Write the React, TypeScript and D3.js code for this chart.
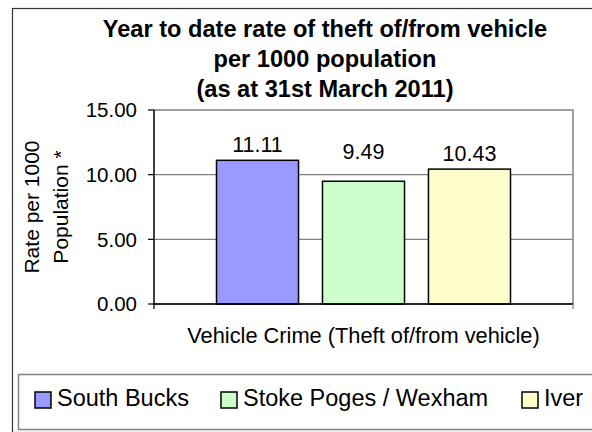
import * as d3 from "d3";

const CATEGORY = "Vehicle Crime (Theft of/from vehicle)";
const SERIES = ["South Bucks", "Stoke Poges / Wexham", "Iver"];
const VALUES = [11.11, 9.49, 10.43];
const COLORS = ["#9999ff", "#ccffcc", "#ffffcc"];
const Y_TICKS = [0, 5, 10, 15];
const TITLE_LINES = [
  "Year to date rate of theft of/from vehicle",
  "per 1000 population",
  "(as at 31st March 2011)",
];
const Y_TITLE_LINES = ["Rate per 1000", "Population *"];

// label lift above bar top (the middle label sits higher in the original)
const LABEL_LIFT = [8, 22, 8];
// legend swatch x positions
const LEGEND_X = [35, 221, 522];

const FONT = "'Liberation Sans', Arial, sans-serif";

export default function App() {
  const W = 592, H = 432;
  const plot = { left: 154, right: 573, top: 110, bottom: 304 };

  const y = d3.scaleLinear().domain([0, 15]).range([plot.bottom, plot.top]);
  const xOuter = d3.scaleBand<string>()
    .domain([CATEGORY])
    .range([plot.left, plot.right])
    .paddingOuter(0.2126);
  const xInner = d3.scaleBand<string>()
    .domain(SERIES)
    .range([xOuter(CATEGORY) ?? 0, (xOuter(CATEGORY) ?? 0) + xOuter.bandwidth()])
    .paddingInner(0.226);

  return (
    <svg width={W} height={H} style={{ position: "absolute", left: 0, top: 0, background: "#fff" }} fontFamily={FONT}>
      <rect x={0} y={0} width={W} height={H} fill="#fff" />
      {/* chart border */}
      <rect x={12.5} y={8.5} width={700} height={424} fill="none" stroke="#333" strokeWidth={1.2} />

      {/* title */}
      {TITLE_LINES.map((t, i) => (
        <text key={t} x={325} y={37 + i * 30} textAnchor="middle" fontSize={23.6} fontWeight="bold" fill="#000">
          {t}
        </text>
      ))}

      {/* plot border */}
      <rect x={plot.left} y={plot.top} width={plot.right - plot.left} height={plot.bottom - plot.top}
        fill="#fff" stroke="#808080" strokeWidth={1.5} />

      {/* gridlines */}
      {Y_TICKS.filter((t) => t > 0 && t < 15).map((t) => (
        <line key={t} x1={plot.left} x2={plot.right} y1={y(t)} y2={y(t)} stroke="#808080" strokeWidth={1.2} />
      ))}

      {/* bars */}
      {SERIES.map((s, i) => (
        <rect key={s} x={xInner(s)} y={y(VALUES[i])} width={xInner.bandwidth()} height={plot.bottom - y(VALUES[i])}
          fill={COLORS[i]} stroke="#000" strokeWidth={1.5} />
      ))}

      {/* data labels */}
      {SERIES.map((s, i) => (
        <text key={s} x={(xInner(s) ?? 0) + xInner.bandwidth() / 2} y={y(VALUES[i]) - LABEL_LIFT[i]}
          textAnchor="middle" fontSize={21.5} fill="#000">
          {VALUES[i].toFixed(2)}
        </text>
      ))}

      {/* y axis */}
      <line x1={plot.left} x2={plot.left} y1={plot.top} y2={plot.bottom + 5} stroke="#000" strokeWidth={1.2} />
      {Y_TICKS.map((t) => (
        <g key={t}>
          <line x1={plot.left - 6} x2={plot.left} y1={y(t)} y2={y(t)} stroke="#000" strokeWidth={1.2} />
          <text x={137} y={y(t)} dy="0.36em" textAnchor="end" fontSize={20.5} fill="#000">
            {t.toFixed(2)}
          </text>
        </g>
      ))}

      {/* x axis */}
      <line x1={plot.left} x2={plot.right} y1={plot.bottom} y2={plot.bottom} stroke="#000" strokeWidth={1.5} />
      <line x1={plot.right} x2={plot.right} y1={plot.bottom} y2={plot.bottom + 5} stroke="#808080" strokeWidth={1.2} />
      <text x={(xOuter(CATEGORY) ?? 0) + xOuter.bandwidth() / 2} y={343} textAnchor="middle" fontSize={21.8} fill="#000">
        {CATEGORY}
      </text>

      {/* y axis title */}
      {Y_TITLE_LINES.map((t, i) => (
        <text key={t} transform={`translate(${39 + i * 29},${(plot.top + plot.bottom) / 2}) rotate(-90)`}
          textAnchor="middle" fontSize={21} fill="#000">
          {t}
        </text>
      ))}

      {/* legend */}
      <rect x={18.5} y={374.5} width={700} height={55} fill="#fff" stroke="#808080" strokeWidth={1.5} />
      {SERIES.map((s, i) => (
        <g key={s} transform={`translate(${LEGEND_X[i]},392)`}>
          <rect x={0} y={0} width={16} height={16} fill={COLORS[i]} stroke="#000" strokeWidth={1.5} />
          <text x={22} y={14} fontSize={23.5} fill="#000">{s}</text>
        </g>
      ))}
    </svg>
  );
}
